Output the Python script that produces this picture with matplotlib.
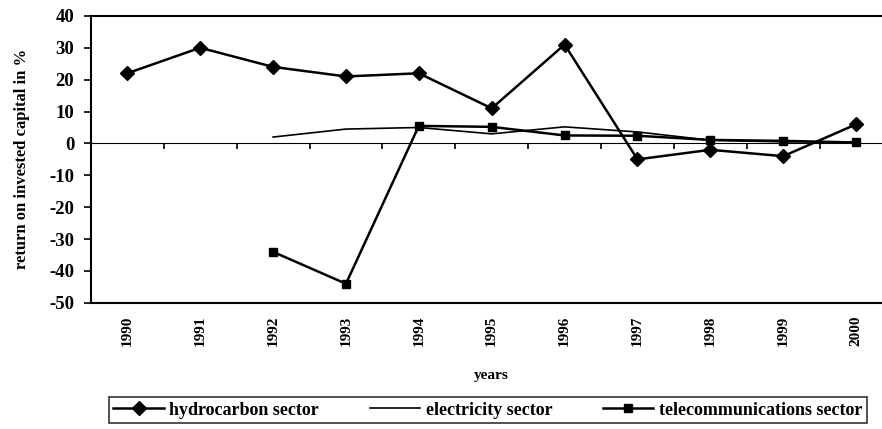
import matplotlib
matplotlib.use("Agg")
import matplotlib.pyplot as plt
import numpy as np

# ── data ──────────────────────────────────────────────────────────────────────
years = ["1990", "1991", "1992", "1993", "1994", "1995",
         "1996", "1997", "1998", "1999", "2000"]
hydrocarbon = [22, 30, 24, 21, 22, 11, 31, -5, -2, -4, 6]
electricity = [np.nan, np.nan, 2, 4.5, 5, 3, 5.2, 3.6, 1, 0.5, 0.5]
telecom     = [np.nan, np.nan, -34, -44, 5.5, 5.2, 2.5, 2.4, 1.1, 0.8, 0.3]
y_ticks = [40, 30, 20, 10, 0, -10, -20, -30, -40, -50]

plt.rcParams["font.family"] = ["Liberation Serif", "DejaVu Serif"]
plt.rcParams["font.weight"] = "bold"

fig = plt.figure(figsize=(8.82, 4.29), dpi=100)
ax = fig.add_axes([0.103, 0.294, 0.909, 0.669])

x = np.arange(len(years))
ax.plot(x, hydrocarbon, color="black", lw=1.8, marker="D", ms=7,
        label="hydrocarbon sector")
ax.plot(x, electricity, color="black", lw=1.2, label="electricity sector")
ax.plot(x, telecom, color="black", lw=1.8, marker="s", ms=5.5,
        label="telecommunications sector")

ax.set_xlim(-0.5, len(years) - 0.5)
ax.set_ylim(-50, 40)
ax.set_yticks(y_ticks)
ax.set_yticklabels([str(v) for v in y_ticks], fontsize=13.5, fontweight="bold")
ax.tick_params(axis="y", direction="out", length=5, width=1.2, pad=7)

ax.set_xticks(x)
ax.set_xticklabels(years, rotation=90, fontsize=11, fontweight="bold")
ax.tick_params(axis="x", length=0, pad=9)
ax.set_xlabel("years", fontsize=11, fontweight="bold", labelpad=17)
ax.set_ylabel("return on invested capital in %", fontsize=12,
              fontweight="bold", labelpad=14)

for s in ax.spines.values():
    s.set_linewidth(1.5)

# category axis crossing at zero, ticks between categories
zero_pos = (0 - (-50)) / 90.0
sec = ax.secondary_xaxis(zero_pos)
sec.set_xticks(np.arange(0.5, len(years) - 0.5, 1.0))
sec.set_xticklabels([])
sec.tick_params(direction="in", length=4, width=1.2)
sec.spines["bottom"].set_linewidth(1.2)

leg = fig.legend(loc="center", bbox_to_anchor=(0.553, 0.044), ncol=3,
                 frameon=True, fancybox=False, edgecolor="black",
                 fontsize=13, handlelength=2.8, handletextpad=0.3,
                 columnspacing=2.8, borderpad=0.25)
leg.get_frame().set_linewidth(1.2)

fig.savefig("out.png", dpi=100)
